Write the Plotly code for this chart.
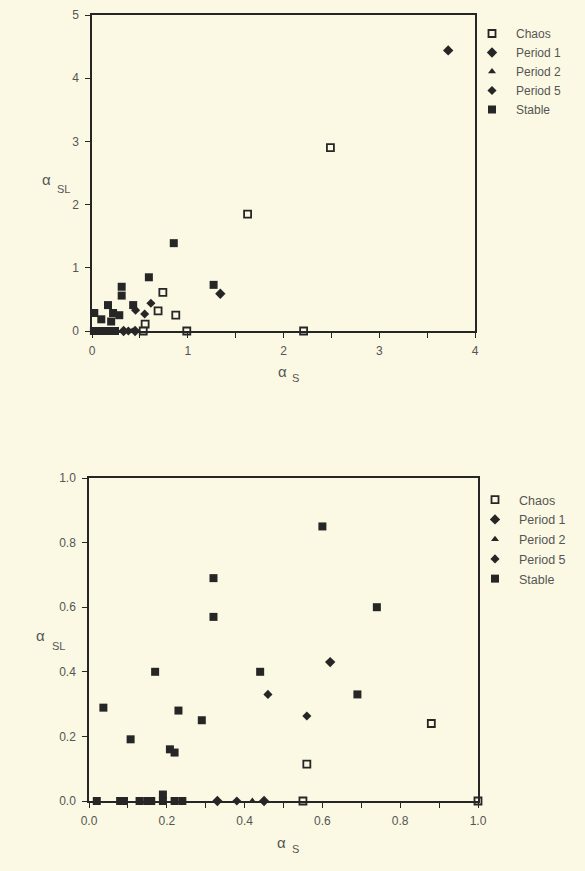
import plotly.graph_objects as go

# ---------------- data: top panel (full range) ----------------
top_chaos_x = [2.49, 1.625, 0.74, 0.875, 0.69, 0.555, 0.99, 0.535, 2.21]
top_chaos_y = [2.90, 1.85, 0.61, 0.25, 0.32, 0.11, 0.0, 0.0, 0.0]
top_p1_x = [3.72, 1.34, 0.33, 0.45]
top_p1_y = [4.44, 0.59, 0.0, 0.0]
top_p2_x = [0.42]
top_p2_y = [0.0]
top_p5_x = [0.615, 0.55, 0.455, 0.38]
top_p5_y = [0.44, 0.27, 0.33, 0.0]
top_stable_x = [0.854, 0.594, 1.27, 0.31, 0.31, 0.43, 0.167, 0.024, 0.097, 0.22, 0.285, 0.2,
                0.02, 0.08, 0.09, 0.13, 0.15, 0.16, 0.19, 0.22, 0.24]
top_stable_y = [1.39, 0.85, 0.73, 0.70, 0.56, 0.41, 0.41, 0.285, 0.185, 0.285, 0.25, 0.15,
                0, 0, 0, 0, 0, 0, 0, 0, 0]

# ---------------- data: bottom panel (0-1 zoom) ----------------
bot_chaos_x = [0.88, 0.56, 0.55, 1.0]
bot_chaos_y = [0.24, 0.114, 0.0, 0.0]
bot_p1_x = [0.62, 0.33, 0.45]
bot_p1_y = [0.43, 0.0, 0.0]
bot_p2_x = [0.42]
bot_p2_y = [0.0]
bot_p5_x = [0.46, 0.56, 0.38]
bot_p5_y = [0.33, 0.263, 0.0]
bot_stable_x = [0.037, 0.107, 0.17, 0.208, 0.22, 0.23, 0.29, 0.32, 0.32, 0.44, 0.60, 0.74, 0.69, 0.19,
                0.02, 0.08, 0.09, 0.13, 0.15, 0.16, 0.19, 0.22, 0.24]
bot_stable_y = [0.289, 0.191, 0.40, 0.16, 0.15, 0.28, 0.25, 0.69, 0.57, 0.40, 0.85, 0.60, 0.33, 0.02,
                0, 0, 0, 0, 0, 0, 0, 0, 0]

categories = ["Chaos", "Period 1", "Period 2", "Period 5", "Stable"]

top_xticks = [0, 1, 2, 3, 4]
top_yticks = [0, 1, 2, 3, 4, 5]
bot_ticks = [0, 0.2, 0.4, 0.6, 0.8, 1.0]
bot_ticklabels = ["0.0", "0.2", "0.4", "0.6", "0.8", "1.0"]

INK = "#262626"
BG = "#FBF9E3"
TXT = "#555555"
FAM = "Liberation Sans, Arial, sans-serif"

styles = {
    "Chaos": dict(symbol="square", size=7, color=BG, line=dict(color=INK, width=1.8)),
    "Period 1": dict(symbol="diamond", size=8, color=INK, line=dict(width=0)),
    "Period 2": dict(symbol="triangle-up", size=7, color=INK, line=dict(width=0)),
    "Period 5": dict(symbol="diamond", size=7, color=INK, line=dict(width=0)),
    "Stable": dict(symbol="square", size=8, color=INK, line=dict(width=0)),
}

top_sets = [(top_chaos_x, top_chaos_y), (top_p1_x, top_p1_y), (top_p2_x, top_p2_y),
            (top_p5_x, top_p5_y), (top_stable_x, top_stable_y)]
bot_sets = [(bot_chaos_x, bot_chaos_y), (bot_p1_x, bot_p1_y), (bot_p2_x, bot_p2_y),
            (bot_p5_x, bot_p5_y), (bot_stable_x, bot_stable_y)]

fig = go.Figure()
for name, (xs, ys) in zip(categories, top_sets):
    fig.add_trace(go.Scatter(x=xs, y=ys, mode="markers", name=name, marker=styles[name],
                             xaxis="x", yaxis="y", legend="legend", legendgroup="t" + name,
                             cliponaxis=False))
for name, (xs, ys) in zip(categories, bot_sets):
    fig.add_trace(go.Scatter(x=xs, y=ys, mode="markers", name=name, marker=styles[name],
                             xaxis="x2", yaxis="y2", legend="legend2", legendgroup="b" + name,
                             cliponaxis=False))

W, H = 585, 871
axis_common = dict(showline=True, mirror=True, linecolor=INK, linewidth=1.5, showgrid=False,
                   zeroline=False, ticks="outside", ticklen=5, tickcolor=INK, tickwidth=1,
                   automargin=False,
                   tickfont=dict(family=FAM, size=12, color=TXT))

fig.update_layout(
    width=W, height=H, margin=dict(l=0, r=0, t=0, b=0, autoexpand=False),
    paper_bgcolor=BG, plot_bgcolor=BG, font=dict(family=FAM, size=12, color=TXT),
    xaxis=dict(axis_common, domain=[92 / W, 475 / W], range=[0, 4], tickvals=top_xticks,
               ticklabelstandoff=3,
               minor=dict(tickvals=[0.5, 1.5, 2.5, 3.5], ticks="outside", ticklen=5, tickcolor=INK),
               anchor="y"),
    yaxis=dict(axis_common, domain=[1 - 331 / H, 1 - 15 / H], range=[0, 5], tickvals=top_yticks,
               ticklabelstandoff=4, anchor="x"),
    xaxis2=dict(axis_common, domain=[89 / W, 478 / W], range=[0, 1],
                tickvals=bot_ticks, ticktext=bot_ticklabels, ticklabelstandoff=3,
                minor=dict(tickvals=[0.1, 0.3, 0.5, 0.7, 0.9], ticks="outside", ticklen=5, tickcolor=INK),
                anchor="y2"),
    yaxis2=dict(axis_common, domain=[1 - 801 / H, 1 - 478 / H], range=[0, 1],
                tickvals=bot_ticks, ticktext=bot_ticklabels, ticklabelstandoff=4, anchor="x2"),
    legend=dict(x=468 / W, y=1 - 19 / H, xanchor="left", yanchor="top", bgcolor="rgba(0,0,0,0)",
                font=dict(family=FAM, size=12, color=TXT), itemwidth=38, tracegroupgap=0),
    legend2=dict(x=471 / W, y=1 - 485 / H, xanchor="left", yanchor="top", bgcolor="rgba(0,0,0,0)",
                 font=dict(family=FAM, size=12.5, color=TXT), itemwidth=38, tracegroupgap=0.5),
    showlegend=True,
)

alpha = dict(xref="paper", yref="paper", showarrow=False, font=dict(family=FAM, size=15, color=TXT),
             xanchor="center", yanchor="middle")
sub = dict(xref="paper", yref="paper", showarrow=False, font=dict(family=FAM, size=11, color=TXT),
           xanchor="center", yanchor="middle")
# top x title
fig.add_annotation(alpha, x=282 / W, y=1 - 371 / H, text="α")
fig.add_annotation(sub, x=295 / W, y=1 - 378 / H, text="S")
# top y title
fig.add_annotation(alpha, x=46 / W, y=1 - 179 / H, text="α")
fig.add_annotation(sub, x=63 / W, y=1 - 189 / H, text="SL")
# bottom x title
fig.add_annotation(alpha, x=281 / W, y=1 - 842 / H, text="α")
fig.add_annotation(sub, x=295 / W, y=1 - 849 / H, text="S")
# bottom y title
fig.add_annotation(alpha, x=40 / W, y=1 - 635 / H, text="α")
fig.add_annotation(sub, x=58 / W, y=1 - 646 / H, text="SL")

fig.write_html("out.html")
